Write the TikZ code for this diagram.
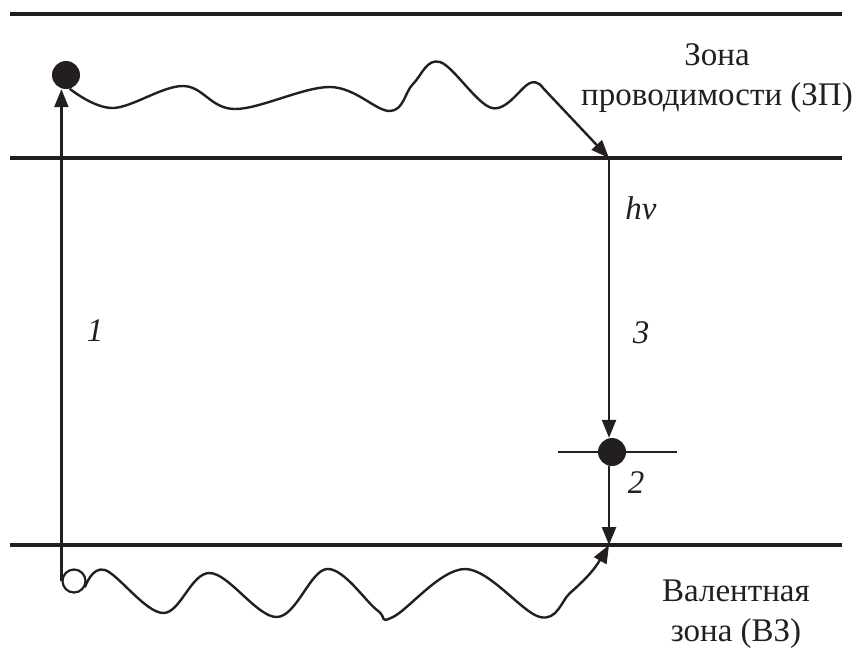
\documentclass[tikz,border=0pt]{standalone}
\usepackage{fontspec}
\setmainfont{Liberation Serif}
\usepackage{tikz}
\usetikzlibrary{arrows.meta}
\definecolor{ink}{RGB}{35, 31, 32}

\begin{document}
\begin{tikzpicture}[
  x=1pt, y=-1pt,
  band/.style={draw=ink, line width=4pt},
  jump/.style={
    draw=ink, line width=2.4pt,
    -{Triangle[length=18pt, width=14pt]}
  },
  wave/.style={
    draw=ink, line width=2.4pt,
    -{Triangle[length=18pt, width=14pt]}
  },
  tick/.style={draw=ink, line width=2.4pt},
  electron/.style={circle, fill=ink, inner sep=0pt, minimum size=28pt},
  hole/.style={circle, draw=ink, line width=2.2pt, fill=white, inner sep=0pt, minimum size=23pt},
  zone/.style={font=\fontsize{33}{40}\selectfont, text=ink, align=center, inner sep=0pt},
  num/.style={font=\fontsize{33}{40}\selectfont\itshape, text=ink, inner sep=0pt}
]
\useasboundingbox (0,0) rectangle (856,662);

\draw[band] (10,14) -- (842,14);
\draw[band] (10,158) -- (842,158);
\draw[band] (10,545) -- (842,545);

\node[electron] (e1) at (66,75) {};
\node[hole] (h1) at (74,581) {};
\node[electron] (e2) at (612,452) {};
\coordinate (c1) at (609,158);
\coordinate (c2) at (609,545);

\draw[tick] ([xshift=-54pt]e2.center) -- ([xshift=65pt]e2.center);

\draw[jump] (h1.west) -- (h1.west |- e1.south);
\draw[jump] (c1) -- (c1 |- e2.north);
\draw[jump] (e2.south -| c2) -- (c2);

\draw[wave] plot[smooth, tension=.6] coordinates {(e1.-75) (113,108) (183,86) (235,109)
  (330,87) (390,111) (413,84) (440,62) (492,108) (530,83) (543,88)} -- (c1);
\draw[wave] plot[smooth, tension=.6] coordinates {(h1.-30) (105,570) (163,613) (210,573)
  (277,617) (327,569) (377,610) (393,617) (465,569) (540,617) (570,593) (593,570) (c2)};

\node[zone] (cb) at (717,78) {Зона\\проводимости (ЗП)};
\node[zone] (vb) at (736,614) {Валентная\\зона (ВЗ)};

\node[num] (l1) at (95,331) {1};
\node[num] (lhv) at (641,208) {hv};
\node[num] (l3) at (641,333) {3};
\node[num] (l2) at (636,483) {2};
\end{tikzpicture}
\end{document}
